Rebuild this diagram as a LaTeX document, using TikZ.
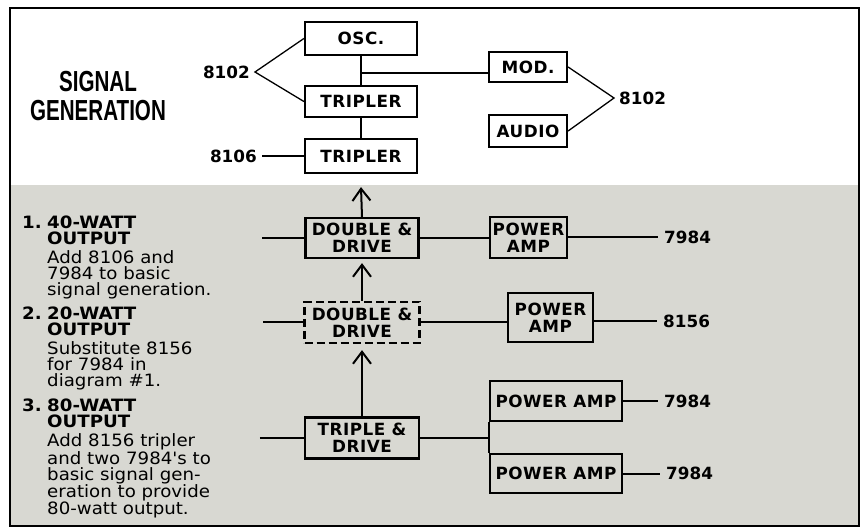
\documentclass[tikz,border=0pt]{standalone}
\usepackage{fontspec}
\setmainfont{DejaVu Sans}
\newfontfamily\titlefont{Liberation Sans}[FakeStretch=0.71]
\newfontfamily\boxfont{DejaVu Sans}[LetterSpace=3]
\newfontfamily\notefont{DejaVu Sans}[FakeStretch=1.07]
\usetikzlibrary{arrows.meta,calc,positioning}
\definecolor{panelgray}{RGB}{216,216,210}
\tikzset{
  wire/.style      = {line width=2pt},
  thinwire/.style  = {line width=1.3pt},
  blockbox/.style  = {draw, line width=2.2pt, inner sep=0pt, align=center,
                      font=\boxfont\bfseries\fontsize{16.8}{17}\selectfont},
  dashbox/.style   = {blockbox, dash pattern=on 8pt off 4pt},
  partno/.style    = {font=\bfseries\fontsize{16.8}{17}\selectfont, inner sep=5pt},
  notetext/.style  = {font=\notefont\fontsize{17}{16}\selectfont, align=left, inner sep=0pt,
                      anchor=north west},
  titletext/.style = {font=\titlefont\bfseries\fontsize{29}{29}\selectfont, align=center},
  sigarrow/.style  = {wire, -{Straight Barb[length=12pt,width=18pt]}},
}

\begin{document}
\begin{tikzpicture}[x=1pt,y=-1pt]
  \useasboundingbox (0,0) rectangle (868,529);
  % ---- frame and shaded panel -------------------------------------------
  \fill[panelgray] (10,185) rectangle (859,526);
  \draw[line width=2pt] (10,8) rectangle (859,526);

  % ---- signal generation -------------------------------------------------
  \node[titletext] (title) at (98,96) {SIGNAL\\GENERATION};
  \node[blockbox, minimum width=112pt, minimum height=33pt] (osc)   at (361,38.5) {OSC.};
  \node[blockbox, minimum width=112pt, minimum height=31pt] (trip1) at (361,101.5) {TRIPLER};
  \node[blockbox, minimum width=112pt, minimum height=34pt] (trip2) at (361,156) {TRIPLER};
  \node[blockbox, minimum width=78pt, minimum height=30pt]  (mod)   at (528,67) {MOD.};
  \node[blockbox, minimum width=78pt, minimum height=32pt]  (audio) at (528,131) {AUDIO};
  \node[partno, anchor=east] (tubeA) at (255,72) {8102};
  \node[partno, anchor=east] (tubeB) at (262,156) {8106};
  \node[partno, anchor=west] (tubeC) at (614,98) {8102};

  \coordinate (jmod) at ($(osc.south)!0.58!(trip1.north)$);
  \draw[wire] (osc.south) -- (trip1.north);
  \draw[wire] (jmod) -- (jmod -| mod.west);
  \draw[wire] (trip1.south) -- (trip2.north);
  \draw[thinwire] (osc.west) -- (tubeA.east) -- (trip1.west);
  \draw[thinwire] (mod.east) -- (tubeC.west) -- (audio.east);
  \draw[thinwire] (tubeB.east) -- (trip2.west);

  % ---- notes ---------------------------------------------------------------
  \node[notetext] (num1) at (22,216) {\bfseries 1.};
  \node[notetext] (note1) at (47,216)
      {\bfseries 40-WATT\\\bfseries OUTPUT\\[3pt]Add 8106 and\\7984 to basic\\signal generation.};
  \node[notetext] (num2) at (22,307) {\bfseries 2.};
  \node[notetext] (note2) at (47,307)
      {\bfseries 20-WATT\\\bfseries OUTPUT\\[3pt]Substitute 8156\\for 7984 in\\diagram \#1.};
  \node[notetext] (num3) at (22,399) {\bfseries 3.};
  \node[notetext] (note3) at (47,399)
      {\bfseries 80-WATT\\\bfseries OUTPUT\\[3pt]Add 8156 tripler\\and two 7984's to\\basic signal gen-\\eration to provide\\80-watt output.};

  % ---- output stages -------------------------------------------------------
  \node[blockbox, minimum width=113pt, minimum height=40pt] (dd1) at (362,238) {DOUBLE \&\\DRIVE};
  \node[blockbox, minimum width=77pt, minimum height=41pt]  (pa1) at (528.5,237.5) {POWER\\AMP};
  \node[dashbox, minimum width=115pt, minimum height=41pt]  (dd2) at (362,322.5) {DOUBLE \&\\DRIVE};
  \node[blockbox, minimum width=85pt, minimum height=49pt]  (pa2) at (550.5,317.5) {POWER\\AMP};
  \node[blockbox, minimum width=114pt, minimum height=41pt] (td)  at (362,438) {TRIPLE \&\\DRIVE};
  \node[blockbox, minimum width=132pt, minimum height=40pt] (pa3) at (556,401) {POWER AMP};
  \node[blockbox, minimum width=132pt, minimum height=39pt] (pa4) at (556,473.5) {POWER AMP};
  \node[partno, anchor=west, inner sep=6pt] (outA) at (658,237.5) {7984};
  \node[partno, anchor=west, inner sep=6pt] (outB) at (657,321) {8156};
  \node[partno, anchor=west, inner sep=6pt] (outC) at (658,401) {7984};
  \node[partno, anchor=west, inner sep=6pt] (outD) at (660,473.5) {7984};

  \coordinate (up1) at ([yshift=-13pt]trip2.south);
  \draw[sigarrow] (dd1.north) -- (up1);
  \draw[sigarrow, shorten >=4pt] (dd2.north) -- (dd1.south);
  \draw[sigarrow, shorten >=6pt] (td.north) -- (dd2.south);

  \coordinate (feed1) at ([xshift=-42pt]dd1.west);
  \coordinate (feed2) at ([xshift=-40pt]dd2.west);
  \coordinate (feed3) at ([xshift=-44pt]td.west);
  \draw[wire] (feed1) -- (dd1.west);
  \draw[wire] (feed2) -- (dd2.west);
  \draw[wire] (feed3) -- (td.west);

  \draw[wire] (dd1.east) -- (dd1.east -| pa1.west);
  \draw[wire] (dd2.east) -- (dd2.east -| pa2.west);
  \draw[wire] (td.east) -- (td.east -| pa3.west);
  \draw[wire] (pa3.south west) -- (pa4.north west);
  \draw[wire] (pa1.east) -- (outA.west);
  \draw[wire] (outB.west -| pa2.east) -- (outB.west);
  \draw[wire] (pa3.east) -- (outC.west);
  \draw[wire] (pa4.east) -- (outD.west);
\end{tikzpicture}
\end{document}
